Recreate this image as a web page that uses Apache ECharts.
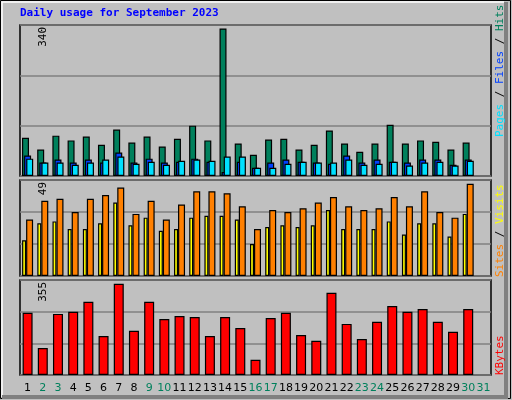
<!DOCTYPE html>
<html><head><meta charset="utf-8">
<script src="https://cdn.jsdelivr.net/npm/echarts@6/dist/echarts.min.js"></script>
<style>html,body{margin:0;padding:0;background:#C0C0C0}#c{width:512px;height:400px}</style>
</head><body><div id="c"></div>
<script>
const days = ['1','2','3','4','5','6','7','8','9','10','11','12','13','14','15','16','17','18','19','20','21','22','23','24','25','26','27','28','29','30','31'];
const weekend = ['2','3','9','10','16','17','23','24','30','31'];
const hits  = [88,61,93,82,91,72,107,77,91,68,86,116,82,340,75,49,84,86,61,72,105,75,56,75,118,75,82,79,61,77,null];
const files = [47,31,38,31,38,31,54,31,40,31,33,40,33,9,33,19,31,38,33,31,28,47,31,38,33,31,38,38,26,38,null];
const pages = [40,31,31,26,31,38,45,28,33,26,35,38,35,45,45,19,19,28,33,31,31,38,26,28,33,24,31,33,24,35,null];
const sites = [19,28,29,25,25,28,39,27,31,24,25,31,32,32,30,17,26,27,26,27,35,25,25,25,29,22,28,28,21,33,null];
const visits= [30,40,41,34,41,43,47,33,40,30,38,45,45,44,37,25,35,34,36,39,42,37,35,36,42,37,45,34,31,49,null];
const kbytes= [242,105,238,246,285,152,355,172,285,218,230,226,152,226,183,59,222,242,156,133,320,199,140,207,269,246,257,207,168,257,null];
const maxLabels = ['340','49','355'];

const mono = '"DejaVu Sans Mono", monospace';
const grids = [
  {left:20,right:21,top:25,height:151},
  {left:20,right:21,top:180,height:96},
  {left:20,right:21,top:280,height:95}
].map(g=>Object.assign(g,{show:true,backgroundColor:'#C0C0C0',borderColor:'#000',borderWidth:1.5}));
const yMax=[348,51,370];
function xa(i){return {type:'category',data:days,gridIndex:i,axisLine:{show:false},axisTick:{show:false},splitLine:{show:false},
  axisLabel:{show:i===2,interval:0,margin:8,fontSize:11,fontFamily:'"DejaVu Sans", sans-serif',color:(v)=>weekend.includes(v)?'#00805C':'#000'}};}
function ya(i){return {type:'value',gridIndex:i,min:0,max:yMax[i],interval:yMax[i]/3,axisLabel:{show:false},axisLine:{show:false},axisTick:{show:false},
  splitLine:{show:true,lineStyle:{color:'#808080',width:1.5,type:'solid'}}};}
const bs={borderColor:'#000',borderWidth:1.2};
function bar(name,data,i,color,w,gap,z){return {type:'bar',name,data,xAxisIndex:i,yAxisIndex:i,barWidth:w,barGap:gap,
  itemStyle:Object.assign({color},bs),z,silent:true};}
const chart=echarts.init(document.getElementById('c'));
function vt(text,x,y,align,rich){return {type:'text',x,y,rotation:Math.PI/2,style:{text,textAlign:align,textVerticalAlign:'middle',font:'11px '+mono,rich}};}
chart.setOption({
  animation:false,backgroundColor:'#C0C0C0',
  grid:grids,xAxis:[xa(0),xa(1),xa(2)],yAxis:[ya(0),ya(1),ya(2)],
  series:[
    bar('Hits',hits,0,'#00805C',7,'-70%',2),
    bar('Files',files,0,'#0040FF',7,'-70%',3),
    bar('Pages',pages,0,'#00E0FF',7,'-70%',4),
    bar('Sites',sites,1,'#FFFF00',4,'0%',2),
    bar('Visits',visits,1,'#FF8000',7,'0%',3),
    bar('KBytes',kbytes,2,'#FF0000',10,'0%',2)
  ],
  graphic:[
    {type:'rect',shape:{x:0.5,y:0.5,width:510,height:398},style:{fill:null,stroke:'#000',lineWidth:1},z:-1},
    {type:'polyline',shape:{points:[[2,397],[2,2],[504,2]]},style:{stroke:'#fff',lineWidth:1.5,fill:null}},
    {type:'polyline',shape:{points:[[506,2],[506,397],[2,397]]},style:{stroke:'#808080',lineWidth:4,fill:null}},
    {type:'text',x:20,y:13,style:{text:'Daily usage for September 2023',fill:'#0000FF',font:'bold 11px '+mono,textVerticalAlign:'middle'}},
    vt(maxLabels[0],43,27,'right'),
    vt(maxLabels[1],43,182,'right'),
    vt(maxLabels[2],43,282,'right'),
    vt('{p|Pages} / {f|Files} / {h|Hits}',500,137,'left',{p:{fill:'#00E0FF',font:'11px '+mono},f:{fill:'#0040FF',font:'11px '+mono},h:{fill:'#00805C',font:'11px '+mono}}),
    vt('{s|Sites} / {v|Visits}',500,277,'left',{s:{fill:'#FF8000',font:'11px '+mono},v:{fill:'#FFFF00',font:'11px '+mono}}),
    {type:'text',x:500,y:375,rotation:Math.PI/2,style:{text:'KBytes',fill:'#FF0000',textAlign:'left',textVerticalAlign:'middle',font:'11px '+mono}}
  ]
});
</script></body></html>
